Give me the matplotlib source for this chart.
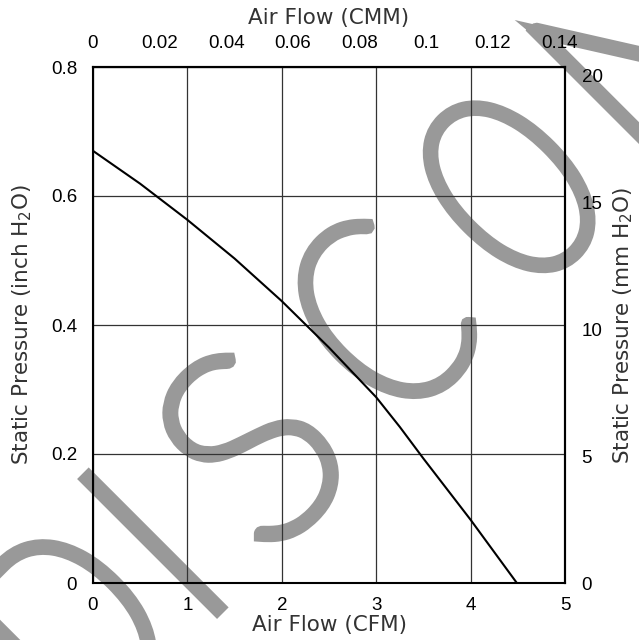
import numpy as np
import matplotlib
matplotlib.use("Agg")
import matplotlib.pyplot as plt
import matplotlib.transforms as mtransforms
from matplotlib import font_manager
from matplotlib.colors import to_rgba
from matplotlib.patheffects import AbstractPathEffect
from matplotlib.path import Path
from matplotlib.ticker import FuncFormatter

# fan curve (CFM vs inch H2O)
airflow_cfm = [0.0, 0.5, 1.0, 1.5, 2.0, 2.5, 3.0, 3.25, 3.5, 4.0, 4.49]
pressure_inch = [0.670, 0.619, 0.563, 0.503, 0.437, 0.365, 0.288, 0.242, 0.193, 0.098, 0.0]

cfm_ticks = [0, 1, 2, 3, 4, 5]
inch_ticks = [0, 0.2, 0.4, 0.6, 0.8]
cmm_ticks = [0, 0.02, 0.04, 0.06, 0.08, 0.1, 0.12, 0.14]
mm_ticks = [0, 5, 10, 15, 20]

# the part of the "DISCONTINUED" stamp that shows inside the picture
watermark = ["D", "I", "S", "C", "O", "N"]

CFM_TO_CMM = 0.0283168
INCH_TO_MM = 25.4

W, H = 639, 640
GREY = "#999999"
LABEL_COLOR = "#333333"
TICK_FONT = "Liberation Sans"


class SqueezeStroke(AbstractPathEffect):
    """squeeze a glyph to a given width along its baseline, then stroke it"""

    def __init__(self, width_px, lw, color):
        super().__init__()
        self.width_px = width_px
        self.lw = lw
        self.color = to_rgba(color)

    def draw_path(self, renderer, gc, tpath, affine, rgbFace=None):
        v = tpath.vertices
        if tpath.codes is not None:
            v = v[tpath.codes != Path.CLOSEPOLY]
        x0, x1 = v[:, 0].min(), v[:, 0].max()
        cx = (x0 + x1) / 2
        k = np.sqrt(abs(np.linalg.det(affine.get_matrix()[:2, :2])))
        lw_px = renderer.points_to_pixels(self.lw)
        ink = (x1 - x0) * k
        sx = min(1.0, max(0.2, (self.width_px - lw_px) / ink))
        squeeze = mtransforms.Affine2D().translate(-cx, 0).scale(sx, 1).translate(cx, 0)
        gc0 = renderer.new_gc()
        gc0.copy_properties(gc)
        gc0.set_linewidth(self.lw)
        gc0.set_foreground(self.color)
        gc0.set_joinstyle("miter")
        gc0.set_capstyle("butt")
        renderer.draw_path(gc0, tpath, squeeze + affine, self.color)
        gc0.restore()


# a hairline face stroked thick looks closest to the stamp lettering
lato = [f.weight for f in font_manager.fontManager.ttflist if f.name == "Lato"]
lato = [w for w in lato if isinstance(w, int)]
if lato and min(lato) <= 300:
    wm_family, wm_weight = "Lato", min(lato)
    wm_lw = 11.5 if wm_weight <= 200 else 9.5
    wm_size = 190
else:
    wm_family, wm_weight = "DejaVu Sans", "normal"
    wm_lw = 1.5
    wm_size = 190
wm_lw_px = wm_lw * 100 / 72

# letter centres along the 45 degree baseline and their widths (pixels)
wm_centre = [-395, -276, -139, 43, 228, 415]
wm_width = [130, 20, 136, 127, 128, 130]

fig = plt.figure(figsize=(W / 100, H / 100), dpi=100)
ax = fig.add_axes([93 / W, 1 - 583 / H, 472 / W, 516 / H])
ax.set_facecolor("none")

base = 836 - wm_lw_px / 2 * np.sqrt(2)
for ch, sc, wd in zip(watermark, wm_centre, wm_width):
    px = (base + sc * np.sqrt(2)) / 2
    py = (base - sc * np.sqrt(2)) / 2
    fig.text(px / W, 1 - py / H, ch, fontsize=wm_size, family=wm_family,
             fontweight=wm_weight, color=GREY, rotation=45,
             rotation_mode="anchor", ha="center", va="baseline", zorder=-1,
             path_effects=[SqueezeStroke(wd, wm_lw, GREY)])

ax.plot(airflow_cfm, pressure_inch, color="black", lw=1.5, zorder=3)

ax.set_xlim(0, 5)
ax.set_ylim(0, 0.8)
ax.set_xticks(cfm_ticks)
ax.set_yticks(inch_ticks)
fmt = FuncFormatter(lambda v, p: "%g" % v)
ax.xaxis.set_major_formatter(fmt)
ax.yaxis.set_major_formatter(fmt)
ax.grid(True, color="#333333", lw=0.9)
for sp in ax.spines.values():
    sp.set_linewidth(1.5)
    sp.set_color("black")
ax.tick_params(axis="x", length=0, pad=10, labelsize=13.5, labelfontfamily=TICK_FONT)
ax.tick_params(axis="y", length=0, pad=11.5, labelsize=13.5, labelfontfamily=TICK_FONT)

top = ax.secondary_xaxis("top", functions=(lambda x: x * CFM_TO_CMM, lambda x: x / CFM_TO_CMM))
top.set_xticks(cmm_ticks)
top.xaxis.set_major_formatter(fmt)
top.tick_params(length=0, pad=11, labelsize=13.5, labelfontfamily=TICK_FONT)
right = ax.secondary_yaxis("right", functions=(lambda y: y * INCH_TO_MM, lambda y: y / INCH_TO_MM))
right.set_yticks(mm_ticks)
right.yaxis.set_major_formatter(fmt)
right.tick_params(length=0, pad=12, labelsize=13.5, labelfontfamily=TICK_FONT)
for sec in (top, right):
    for sp in sec.spines.values():
        sp.set_linewidth(1.5)

lab_kw = dict(fontsize=15.5, color=LABEL_COLOR, family="DejaVu Sans")
ax.set_xlabel("Air Flow (CFM)", **lab_kw)
ax.set_ylabel("Static Pressure (inch H$_2$O)", **lab_kw)
top.set_xlabel("Air Flow (CMM)", **lab_kw)
right.set_ylabel("Static Pressure (mm H$_2$O)", rotation=90, **lab_kw)
for lab in (ax.xaxis.label, ax.yaxis.label, top.xaxis.label, right.yaxis.label):
    lab.set_va("center")
    lab.set_ha("center")
ax.xaxis.set_label_coords(0.5, (583 - 625) / 516, transform=ax.transAxes)
ax.yaxis.set_label_coords((22 - 93) / 472, 0.5, transform=ax.transAxes)
top.xaxis.set_label_coords(0.5, (583 - 18) / 516, transform=ax.transAxes)
right.yaxis.set_label_coords((623 - 93) / 472, 0.5, transform=ax.transAxes)

fig.savefig("out.png", dpi=100, facecolor="white")
